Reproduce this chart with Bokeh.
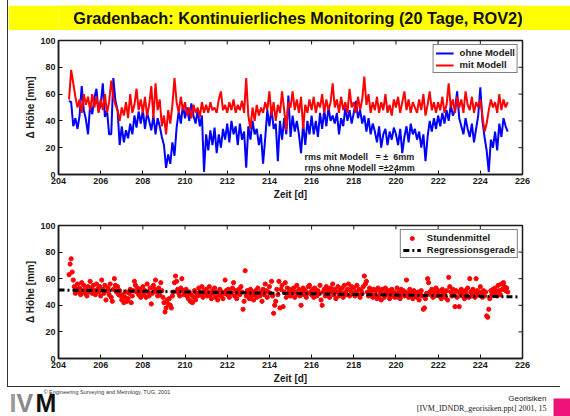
from bokeh.plotting import figure
from bokeh.models import Range1d, Legend, LegendItem, Label, FixedTicker, Spacer
from bokeh.layouts import column, row
from bokeh.embed import file_html
from bokeh.resources import INLINE
from bokeh.core.properties import value

TITLE = "Gradenbach: Kontinuierliches Monitoring (20 Tage, ROV2)"
X_TICKS = [204, 206, 208, 210, 212, 214, 216, 218, 220, 222, 224, 226]
Y_TICKS = [0, 20, 40, 60, 80, 100]
X_LABEL = "Zeit [d]"
Y_LABEL = "\u0394 H\u00f6he [mm]"
RMS_TEXT = ["rms mit Modell\u00a0\u00a0\u00a0= \u00b1\u00a0\u00a06mm", "rms ohne Modell =\u00b124mm"]
LEGEND_TOP = ["ohne Modell", "mit Modell"]
LEGEND_BOT = ["Stundenmittel", "Regressionsgerade"]
COPYRIGHT = "\u00a9 Engineering Surveying and Metrology, TUG, 2001"
FOOT_1 = "Georisiken"
FOOT_2 = "[IVM_IDNDR_georisiken.ppt] 2001, 15"

# time grid of the series
LINE_T0, LINE_DT = 204.5, 0.1
PTS_T0, PTS_DT = 204.5, 0.05

# "ohne Modell" (blue), one value every 0.1 d from 204.5
blue = [
    55, 54, 36, 42, 34,
    44, 66, 48, 41, 30, 52, 45, 57, 64, 47,
    52, 68, 43, 48, 30, 30, 72, 55, 48, 22,
    36, 24, 33, 27, 38, 30, 44, 35, 47, 38,
    48, 34, 46, 40, 33, 44, 30, 42, 36, 28,
    22, 5, 15, 8, 24, 14, 35, 47, 38, 52,
    42, 50, 40, 53, 44, 38, 48, 36, 44, 2,
    30, 18, 33, 22, 35, 16, 30, 20, 34, 26,
    38, 24, 40, 30, 36, 22, 38, 26, 32, 5,
    36, 26, 40, 30, 34, 22, 30, 8, 27, 48,
    36, 50, 34, 38, 10, 40, 26, 42, 30, 59,
    28, 44, 32, 40, 30, 16, 38, 22, 40, 30,
    44, 30, 40, 28, 46, 34, 48, 36, 50, 40,
    44, 38, 46, 30, 42, 36, 50, 40, 48, 38,
    46, 55, 42, 48, 38, 44, 32, 42, 30, 38,
    32, 24, 36, 20, 30, 34, 22, 32, 26, 35,
    30, 22, 34, 16, 28, 36, 24, 38, 30, 34,
    26, 32, 20, 30, 10, 28, 40, 32, 42, 34,
    44, 36, 46, 38, 48, 40, 52, 44, 48, 62,
    42, 36, 30, 42, 34, 28, 38, 24, 34, 44,
    65, 40, 28, 18, 2, 26, 20, 32, 18, 38,
    28, 42, 36, 32,
]

# "mit Modell" (red), same time grid
red = [
    56, 78, 68, 58, 50,
    56, 46, 60, 52, 58, 48, 60, 50, 58, 46,
    56, 48, 60, 46, 54, 70, 58, 52, 48, 40,
    50, 44, 54, 42, 60, 46, 52, 64, 48, 56,
    46, 58, 44, 52, 66, 42, 68, 48, 56, 36,
    44, 30, 48, 38, 52, 72, 54, 46, 58, 48,
    54, 44, 50, 42, 52, 46, 50, 43, 54, 46,
    52, 46, 54, 48, 50, 46, 56, 62, 48, 52,
    46, 54, 48, 56, 46, 52, 48, 55, 46, 72,
    44, 34, 50, 40, 52, 44, 50, 46, 54, 48,
    62, 44, 54, 40, 52, 46, 62, 48, 33, 54,
    50, 62, 48, 56, 46, 58, 34, 52, 46, 56,
    48, 58, 46, 54, 50, 60, 46, 56, 48, 54,
    68, 50, 56, 46, 58, 48, 54, 46, 64, 50,
    54, 46, 58, 48, 56, 73, 52, 60, 46, 54,
    48, 58, 46, 54, 48, 60, 46, 52, 44, 56,
    50, 58, 46, 54, 62, 48, 56, 46, 54, 50,
    46, 56, 48, 60, 44, 52, 62, 48, 54, 46,
    54, 48, 58, 46, 52, 68, 50, 56, 46, 58,
    50, 56, 46, 62, 52, 48, 58, 46, 54, 50,
    56, 44, 32, 38, 48, 56, 50, 54, 46, 60,
    48, 56, 50, 54,
]

# Stundenmittel (red dots), one value every 0.05 d from 204.5
hourly = [
    63, 71, 75, 65, 59, 54, 49, 52, 56, 50,
    53, 48, 57, 51, 55, 49, 52, 47, 54, 50, 58, 53, 49, 55, 51, 48, 56, 52, 50, 54,
    47, 59, 52, 49, 55, 44, 51, 53, 48, 56, 46, 43, 52, 60, 55, 50, 54, 48, 51, 47,
    44, 48, 42, 46, 50, 43, 45, 49, 52, 42, 47, 51, 58, 55, 50, 53, 48, 52, 46, 50,
    54, 48, 51, 46, 56, 50, 47, 53, 41, 49, 55, 52, 59, 50, 47, 53, 48, 57, 51, 46,
    42, 35, 38, 44, 41, 45, 40, 38, 47, 50, 57, 62, 58, 52, 49, 47, 53, 60, 51, 48,
    49, 52, 47, 45, 50, 43, 48, 42, 46, 51, 44, 49, 47, 53, 50, 48, 54, 46, 51, 49,
    52, 47, 50, 54, 48, 45, 51, 49, 53, 46, 50, 44, 48, 52, 47, 50, 45, 49, 59, 51,
    48, 52, 46, 50, 49, 53, 57, 47, 51, 45, 49, 52, 48, 54, 50, 37, 43, 66, 47, 51,
    49, 45, 52, 47, 50, 44, 48, 51, 46, 53, 49, 47, 50, 43, 52, 48, 56, 51, 46, 50,
    54, 49, 58, 47, 34, 40, 43, 52, 48, 58, 38, 52, 55, 39, 50, 57, 46, 53, 49, 52,
    47, 51, 49, 53, 46, 50, 55, 48, 52, 47, 40, 50, 53, 48, 51, 46, 49, 54, 55, 50,
    48, 52, 46, 53, 50, 47, 51, 49, 55, 44, 40, 50, 52, 47, 54, 49, 51, 46, 53, 50,
    56, 48, 52, 45, 50, 54, 47, 51, 49, 53, 46, 55, 50, 48, 52, 56, 47, 51, 54, 49,
    53, 47, 50, 55, 48, 52, 46, 51, 49, 54, 62, 56, 58, 50, 47, 53, 49, 51, 46, 52,
    48, 51, 45, 53, 47, 50, 44, 52, 49, 46, 53, 50, 48, 51, 45, 49, 52, 47, 50, 46,
    49, 53, 46, 50, 45, 52, 48, 51, 47, 50, 59, 49, 46, 52, 48, 50, 45, 51, 47, 49,
    46, 50, 44, 48, 51, 47, 37, 38, 45, 49, 60, 57, 50, 48, 52, 46, 50, 47, 53, 49,
    51, 47, 50, 45, 52, 48, 49, 46, 51, 44, 61, 54, 50, 47, 52, 48, 39, 51, 46, 50,
    39, 49, 52, 47, 50, 45, 51, 48, 53, 46, 60, 50, 47, 52, 49, 46, 60, 51, 48, 50,
    54, 49, 46, 51, 47, 50, 32, 31, 37, 45, 51, 48, 52, 49, 53, 50, 47, 55, 51, 48,
    56, 52, 57, 54, 51, 53, 50,
]

# Regressionsgerade end points
reg_x = [204.0, 225.9]
reg_y = [51.5, 46.3]

t_line = [round(LINE_T0 + LINE_DT * i, 3) for i in range(len(blue))]
t_pts = [round(PTS_T0 + PTS_DT * i, 3) for i in range(len(hourly))]

FONT = "Liberation Sans"
INK = "#1a1a1a"
W = 562          # width of header / plot canvases (page x 8..570)
BL, FRW = 50, 464  # left border and frame width of the plots


def make_plot(height, b_top, b_bottom):
    p = figure(width=W, height=height, x_range=Range1d(204, 226), y_range=Range1d(0, 100),
               output_backend="svg", toolbar_location=None,
               min_border_left=BL, min_border_right=W - BL - FRW,
               min_border_top=b_top, min_border_bottom=b_bottom)
    p.grid.visible = False
    p.outline_line_color = INK
    p.outline_line_width = 1.5
    xa = p.below[0]
    ya = p.left[0]
    xa.ticker = FixedTicker(ticks=X_TICKS)
    ya.ticker = FixedTicker(ticks=Y_TICKS)
    for ax in (xa, ya):
        ax.major_tick_in = 4
        ax.major_tick_out = 0
        ax.minor_tick_line_color = None
        ax.axis_line_color = INK
        ax.axis_line_width = 1.5
        ax.major_tick_line_color = INK
        ax.major_label_text_font = FONT
        ax.major_label_text_font_style = "bold"
        ax.major_label_text_font_size = "9px"
        ax.major_label_text_color = INK
        ax.major_label_standoff = 3
        ax.axis_label_text_font = FONT
        ax.axis_label_text_font_style = "bold"
        ax.axis_label_text_font_size = "10px"
        ax.axis_label_text_color = INK
    xa.axis_label = X_LABEL
    xa.axis_label_standoff = 2
    ya.axis_label = Y_LABEL
    ya.axis_label_standoff = 1
    # inward ticks on the top and right edges of the box
    n = len(X_TICKS)
    m = len(Y_TICKS)
    p.segment(x0=X_TICKS, y0=[100] * n, x1=X_TICKS, y1=[97] * n, line_color=INK, line_width=1)
    p.segment(x0=[226] * m, y0=Y_TICKS, x1=[225.81] * m, y1=Y_TICKS, line_color=INK, line_width=1)
    return p


def style_legend(leg):
    leg.location = "top_right"
    leg.margin = 4
    leg.border_line_color = "black"
    leg.border_line_width = 1.5
    leg.background_fill_alpha = 1
    leg.label_text_font = FONT
    leg.label_text_font_style = "bold"
    leg.label_text_font_size = "9.5px"
    leg.label_text_color = INK
    leg.label_height = 10
    leg.glyph_height = 10
    leg.glyph_width = 18
    leg.label_standoff = 6
    leg.padding = 2
    leg.spacing = 1


# ---- header (yellow bar) ----
hdr = figure(width=W, height=25, x_range=Range1d(0, W), y_range=Range1d(25, 0),
             min_border=0, x_axis_location=None, y_axis_location=None,
             toolbar_location=None, output_backend="svg", outline_line_color=None,
             background_fill_color="#ffff00", border_fill_color="#ffff00")
hdr.grid.visible = False
hdr.text(x=[290], y=[12.5], text=[TITLE], text_align="center", text_baseline="middle",
         text_font=value(FONT), text_font_style="bold", text_font_size="16.3px", text_color="#111111")

# ---- top plot ----
p1 = make_plot(180, 10, 36)
rb = p1.line(t_line, blue, line_color="#0000ff", line_width=2)
rr = p1.line(t_line, red, line_color="#ff0000", line_width=2)
leg1 = Legend(items=[LegendItem(label=LEGEND_TOP[0], renderers=[rb]),
                     LegendItem(label=LEGEND_TOP[1], renderers=[rr])])
style_legend(leg1)
p1.add_layout(leg1)
for txt, yv in zip(RMS_TEXT, [12.7, 5.2]):
    p1.add_layout(Label(x=215.66, y=yv, text=txt, text_baseline="middle",
                        text_font=FONT, text_font_style="bold", text_font_size="9px",
                        text_color=INK))

# ---- bottom plot ----
p2 = make_plot(176, 15, 27)
rs = p2.scatter(t_pts, hourly, marker="circle", size=4.2, fill_color="#ff0000", line_color="#ff0000")
rl = p2.line(reg_x, reg_y, line_color="black", line_width=3, line_dash="6 3 2 3")
leg2 = Legend(items=[LegendItem(label=LEGEND_BOT[0], renderers=[rs]),
                     LegendItem(label=LEGEND_BOT[1], renderers=[rl])])
style_legend(leg2)
p2.add_layout(leg2)

# ---- frame lines of the slide ----
left_gap = Spacer(width=7, height=386)
vline = Spacer(width=1, height=386, styles={"background-color": "#333333"})
hline_row = row(Spacer(width=7, height=1),
                Spacer(width=553, height=1, styles={"background-color": "#333333"}))

# ---- footer ----
FW, FH = 570, 29
ftr = figure(width=FW, height=FH, x_range=Range1d(0, FW), y_range=Range1d(FH, 0),
             min_border=0, x_axis_location=None, y_axis_location=None,
             toolbar_location=None, output_backend="svg", outline_line_color=None)
ftr.grid.visible = False
for ch, xx, col in (("I", 9, "#9a9a9a"), ("V", 16, "#8a8a8a"), ("M", 35, "#111111")):
    ftr.text(x=[xx], y=[15], text=[ch], text_font=value(FONT), text_font_style="bold",
             text_font_size="25px", text_color=col, text_baseline="middle")
ftr.text(x=[43], y=[4], text=[COPYRIGHT], text_font=value(FONT), text_font_size="5.5px",
         text_color="#333333", text_baseline="middle")
ftr.text(x=[546], y=[11], text=[FOOT_1], text_font=value(FONT), text_font_size="8px",
         text_color="#222222", text_align="right", text_baseline="middle")
ftr.text(x=[546], y=[21], text=[FOOT_2], text_font=value("Liberation Serif"),
         text_font_size="8px", text_color="#222222", text_align="right", text_baseline="middle")
ftr.quad(left=[553], right=[570], top=[11], bottom=[29], fill_color="#ee1177", line_color=None)

body = row(left_gap, vline, column(Spacer(width=W, height=5), hdr, p1, p2))
layout = column(body, hline_row, ftr)

open("out.html", "w").write(file_html(layout, INLINE))
